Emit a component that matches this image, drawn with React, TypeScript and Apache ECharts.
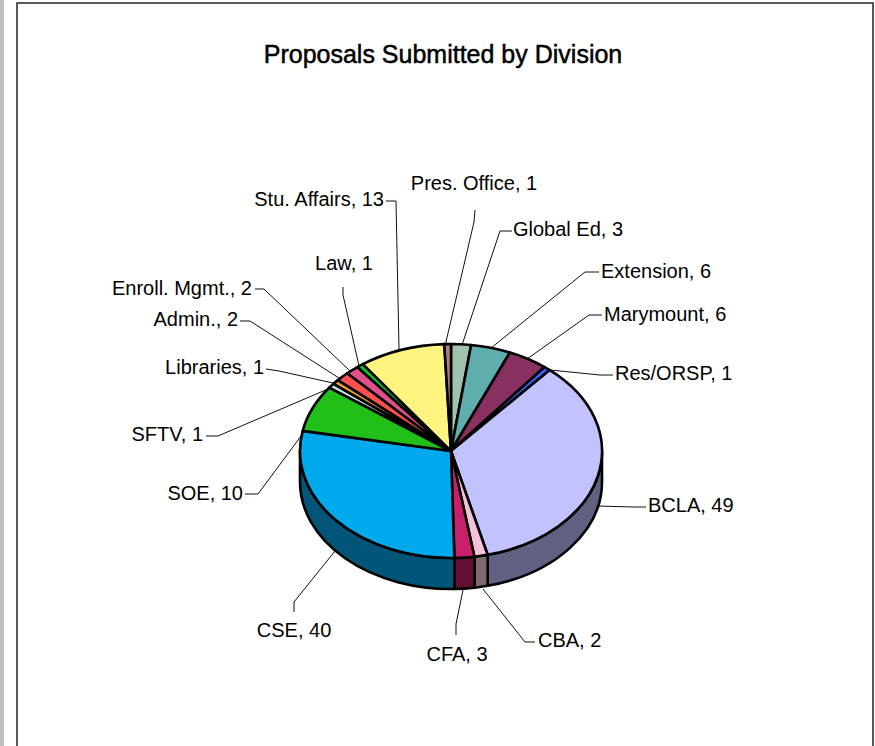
import React, { useEffect, useRef } from "react";
import * as echarts from "echarts";

const titleText = "Proposals Submitted by Division";
const divisions = ["Global Ed", "Extension", "Marymount", "Res/ORSP", "BCLA", "CBA", "CFA", "CSE", "SOE", "SFTV", "Libraries", "Admin.", "Enroll. Mgmt.", "Law", "Stu. Affairs", "Pres. Office"];
const proposals = [3, 6, 6, 1, 49, 2, 3, 40, 10, 1, 1, 2, 2, 1, 13, 1];
const topColors = ["#a0c2b0", "#5fadad", "#8a3060", "#3366ff", "#c2c2ff", "#f2c2d8", "#c8206a", "#00a9ec", "#20c018", "#c0e8e8", "#f0a030", "#ff5050", "#e0508a", "#00d020", "#fff480", "#b08080"];
const wallColors = ["#506158", "#305656", "#451830", "#1a3380", "#606080", "#7f6a72", "#641035", "#005578", "#10600c", "#607474", "#785018", "#802828", "#702845", "#006810", "#807a40", "#584040"];

// label anchor and leader geometry, aligned with divisions
const labelAlign = ["left", "left", "left", "left", "left", "left", "center", "center", "right", "right", "right", "right", "right", "center", "right", "center"];
const labelAt = [[513, 229], [601, 271], [604, 314], [615, 373], [648, 505], [538, 640], [457, 654], [294, 630], [243, 493], [203, 434], [264, 367], [238, 319], [252, 288], [344, 263], [384, 199], [474, 183]];
const leaders = [
  [[512, 231], [500, 231], [462, 345]],
  [[599, 272], [585, 272], [491, 348]],
  [[602, 315], [589, 315], [527, 359]],
  [[613, 375], [600, 375], [550, 370]],
  [[646, 507], [633, 507], [598, 506]],
  [[535, 642], [525, 642], [483, 589]],
  [[456, 635], [456, 624], [463, 590]],
  [[294, 612], [294, 602], [335, 551]],
  [[245, 494], [258, 494], [304, 432]],
  [[206, 436], [218, 436], [328, 389]],
  [[266, 369], [279, 371], [333, 383]],
  [[240, 321], [250, 321], [339, 378]],
  [[255, 289], [264, 289], [350, 371]],
  [[343, 287], [343, 295], [359, 366]],
  [[386, 201], [396, 201], [399, 349]],
  [[475, 210], [474, 222], [445, 346]],
];

const CX = 451, CY = 451, RX = 151, RY = 107, DEPTH = 31;
const FONT = "'Liberation Sans', Arial, sans-serif";

export default function App() {
  const ref = useRef<HTMLDivElement>(null);
  useEffect(() => {
    const chart = echarts.init(ref.current!, null, { renderer: "svg" });
    const total = proposals.reduce((a, b) => a + b, 0);
    const px = (t: number) => CX + RX * Math.sin(t);
    const py = (t: number) => CY - RY * Math.cos(t);
    const stroke = { stroke: "#000", lineWidth: 2.6, lineJoin: "round" };

    const renderItem = (params: any, api: any) => {
      const i = params.dataIndex;
      const before = proposals.slice(0, i).reduce((a, b) => a + b, 0);
      const t0 = (before / total) * Math.PI * 2;
      const t1 = ((before + api.value(0)) / total) * Math.PI * 2;
      const children: any[] = [];
      const w0 = Math.max(t0, Math.PI / 2);
      const w1 = Math.min(t1, (Math.PI * 3) / 2);
      if (w1 > w0) {
        const d =
          `M${px(w0)} ${py(w0)}A${RX} ${RY} 0 0 1 ${px(w1)} ${py(w1)}` +
          `L${px(w1)} ${py(w1) + DEPTH}A${RX} ${RY} 0 0 0 ${px(w0)} ${py(w0) + DEPTH}Z`;
        children.push({ type: "path", shape: { pathData: d }, style: { fill: wallColors[i], ...stroke } });
      }
      const large = t1 - t0 > Math.PI ? 1 : 0;
      const top = `M${CX} ${CY}L${px(t0)} ${py(t0)}A${RX} ${RY} 0 ${large} 1 ${px(t1)} ${py(t1)}Z`;
      children.push({ type: "path", shape: { pathData: top }, style: { fill: topColors[i], ...stroke }, z2: 10 });
      return { type: "group", children };
    };

    const leaderEls = leaders.map((pts) => ({
      type: "polyline",
      shape: { points: pts },
      style: { fill: "none", stroke: "#111", lineWidth: 1 },
      z: 1,
    }));
    const labelEls = divisions.map((name, i) => ({
      type: "text",
      x: labelAt[i][0],
      y: labelAt[i][1],
      style: {
        text: `${name}, ${proposals[i]}`,
        fontFamily: FONT,
        fontSize: 20,
        fill: "#000",
        align: labelAlign[i],
        verticalAlign: "middle",
      },
      z: 5,
    }));

    chart.setOption({
      animation: false,
      backgroundColor: "#fff",
      title: {
        text: titleText,
        left: 438,
        top: 36,
        textAlign: "center",
        textStyle: { fontFamily: FONT, fontSize: 25, fontWeight: "normal", color: "#000", textBorderColor: "#000", textBorderWidth: 0.5 },
      },
      graphic: [
        { type: "rect", shape: { x: 0, y: 0, width: 4, height: 746 }, style: { fill: "#c0c0c0" }, z: 0 },
        { type: "rect", shape: { x: 17, y: 3, width: 856, height: 760 }, style: { fill: "#fff", stroke: "#222", lineWidth: 1.5 }, z: -1 },
        ...leaderEls,
        ...labelEls,
      ],
      series: [
        {
          type: "custom",
          coordinateSystem: "none",
          renderItem,
          z: 3,
          data: proposals.map((v, i) => ({ name: divisions[i], value: [v] })),
        },
      ],
    });
    return () => chart.dispose();
  }, []);
  return <div ref={ref} style={{ position: "absolute", left: 0, top: 0, width: 875, height: 746 }} />;
}
